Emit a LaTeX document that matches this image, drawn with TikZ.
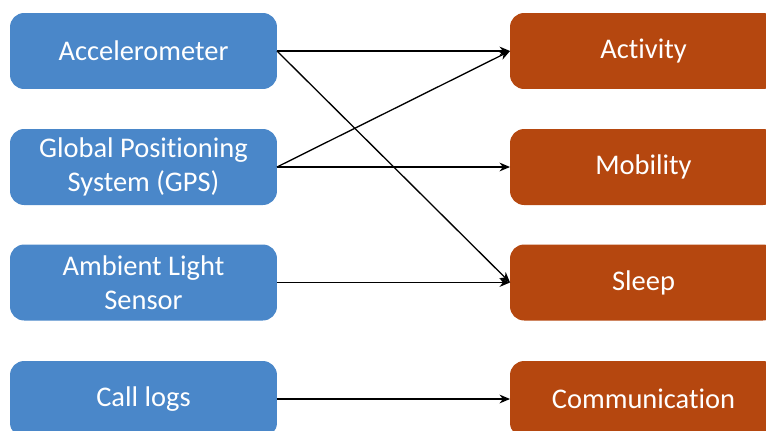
\documentclass[tikz,border=0pt]{standalone}
\usepackage{fontspec}
\setmainfont[Ligatures=NoCommon]{Carlito}
\usepackage{xcolor}
\usetikzlibrary{arrows.meta}
\definecolor{sensorblue}{HTML}{4A87C9}
\definecolor{featorange}{HTML}{B5470F}

\begin{document}
\begin{tikzpicture}[x=0.02cm,y=-0.02cm]
    \useasboundingbox (0,0) rectangle (766,430);
    \clip (0,0) rectangle (766,430);
    %sensors on the left, features on the right
    \begin{scope}[every node/.style={rounded corners=8pt,minimum width=5.34cm,minimum height=1.52cm,
                inner sep=0pt,outer sep=0pt,align=center,text=white,font=\fontsize{16.2}{19.5}\selectfont}]
        \node [fill=sensorblue] (acc) at (143.5,51) {Accelerometer};
        \node [fill=sensorblue] (gps) at (143.5,167) {Global Positioning\\System (GPS)};
        \node [fill=sensorblue] (amb) at (143.5,282.5) {Ambient Light\\Sensor};
        \node [fill=sensorblue] (call) at (143.5,399) {Call logs};

        \node [fill=featorange] (act) at (643.5,51) {Activity};
        \node [fill=featorange] (mob) at (643.5,167) {Mobility};
        \node [fill=featorange] (slp) at (643.5,282.5) {Sleep};
        \node [fill=featorange] (com) at (643.5,399) {Communication};
    \end{scope}

    \begin{scope}[>={Stealth[length=6pt,width=5pt]},
                every edge/.style={draw=black, line width=0.75pt}]
        \path [->] (acc.east) edge (act.west);
        \path [->] (acc.east) edge (slp.west);
        \path [->] (gps.east) edge (act.west);
        \path [->] (gps.east) edge (mob.west);
        \path [->] (amb.east) edge (slp.west);
        \path [->] (call.east) edge (com.west);
    \end{scope}

\end{tikzpicture}
\end{document}
